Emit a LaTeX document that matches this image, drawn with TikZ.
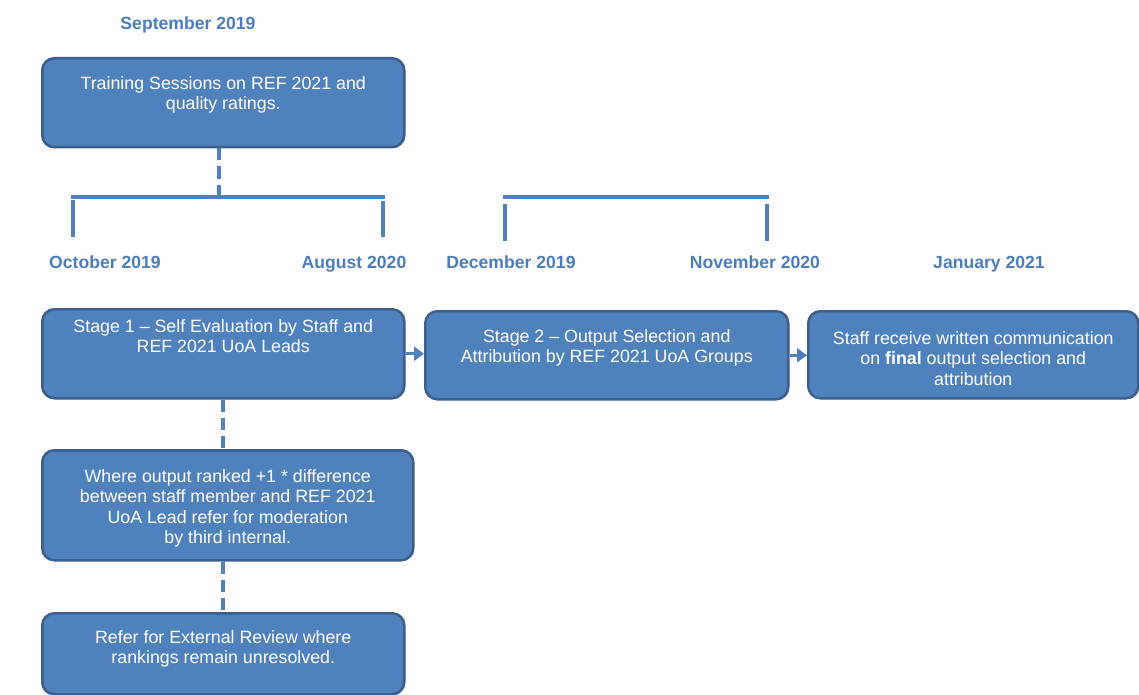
\documentclass[tikz,border=0pt]{standalone}
\usepackage{fontspec}
\setmainfont{Liberation Sans}
\usetikzlibrary{arrows.meta}
\definecolor{boxfill}{HTML}{4F81BD}
\definecolor{boxline}{HTML}{3A5F8C}
\definecolor{datecol}{HTML}{4A7EBB}
\definecolor{linecol}{HTML}{4F81BD}
\newcommand{\bxtext}[4]{\parbox[c][#2pt][t]{#1pt}{\centering\vspace*{#3pt}#4\par}}
\begin{document}
\begin{tikzpicture}[x=1pt,y=-1pt,
  box/.style={draw=boxline, line width=2.5pt, fill=boxfill, rounded corners=12pt,
    inner sep=0pt, anchor=north west, text=white, font=\fontsize{17.8}{20.5}\selectfont},
  datelbl/.style={text=datecol, font=\fontsize{17.6}{21}\selectfont\bfseries, inner sep=0pt, anchor=base},
  dashcon/.style={draw=linecol, line width=4pt, dash pattern=on 12pt off 6pt},
  bracket/.style={draw=linecol, line width=4pt},
  flow/.style={draw=linecol, line width=3pt, -{Triangle[length=10pt,width=14pt]}}]
\useasboundingbox[fill=white] (0,0) rectangle (1139,695);

% date labels
\node[datelbl] (sep) at (188,29.5) {September 2019};
\node[datelbl] (oct) at (105,268) {October 2019};
\node[datelbl] (aug) at (354,268) {August 2020};
\node[datelbl] (dec) at (511,268) {December 2019};
\node[datelbl] (nov) at (755,268) {November 2020};
\node[datelbl] (jan) at (989,268) {January 2021};

% boxes
\node[box] (A) at (41,57) {\bxtext{362}{89}{18}{Training Sessions on REF 2021 and\\ quality ratings.}};
\node[box] (B) at (41,308) {\bxtext{362}{89}{10}{Stage 1 -- Self Evaluation by Staff and\\ REF 2021 UoA Leads}};
\node[box] (C) at (424,310) {\bxtext{363}{88}{18}{Stage 2 -- Output Selection and\\ Attribution by REF 2021 UoA Groups}};
\node[box] (D) at (807,310) {\bxtext{330}{87}{20}{Staff receive written communication\\ on \textbf{final} output selection and\\ attribution}};
\node[box] (E) at (41,449) {\bxtext{371}{110}{19}{Where output ranked +1 * difference\\ between staff member and REF 2021\\ UoA Lead refer for moderation\\ by third internal.}};
\node[box] (F) at (41,612) {\bxtext{362}{81}{17}{Refer for External Review where\\ rankings remain unresolved.}};

% brackets
\coordinate (j1) at (219,197);
\coordinate (b1l) at (71,197);
\coordinate (b1r) at (385,197);
\coordinate (t1l) at (73,237);
\coordinate (t1r) at (383,237);
\coordinate (b2l) at (503,197);
\coordinate (b2r) at (769,197);
\coordinate (t2l) at (505,241);
\coordinate (t2r) at (767,241);

\draw[dashcon] (A.south -| j1) -- (j1);
\draw[bracket] (b1l) -- (b1r);
\draw[bracket] (t1l |- 0,200) -- (t1l);
\draw[bracket] (t1r |- 0,201) -- (t1r);
\draw[bracket] (b2l) -- (b2r);
\draw[bracket] (t2l |- 0,204) -- (t2l);
\draw[bracket] (t2r |- 0,204) -- (t2r);

% connectors
\draw[flow] (B.east) -- (B.east -| C.west);
\draw[flow] (C.east) -- (C.east -| D.west);
\draw[dashcon] (B.south) -- (B.south |- E.north);
\draw[dashcon] (F.north |- E.south) -- (F.north);
\end{tikzpicture}
\end{document}
